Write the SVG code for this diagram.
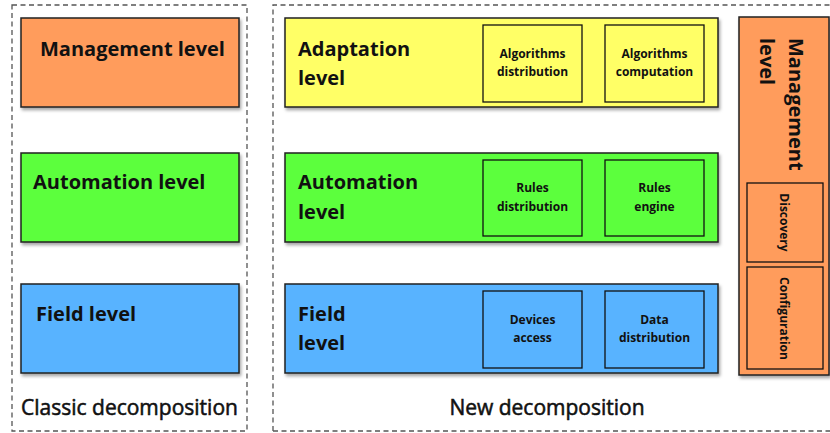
<svg xmlns="http://www.w3.org/2000/svg" width="830" height="433" viewBox="0 0 830 433">
<defs>
<filter id="sh" x="-5%" y="-5%" width="110%" height="115%">
<feDropShadow dx="1.5" dy="2.5" stdDeviation="1.5" flood-color="#000" flood-opacity="0.35"/>
</filter>
</defs>
<style>
.dash{fill:none;stroke:#555;stroke-width:1.3;stroke-dasharray:5 3.5}
.lvl{stroke:#222;stroke-width:1.5;filter:url(#sh)}
.org{fill:#FF9C5B}.grn{fill:#5BFF3E}.yel{fill:#FFFF66}.blu{fill:#58B3FF}
.inner{fill:none;stroke:#111;stroke-width:1.3}
.big{font-family:"Open Sans","Noto Sans",sans-serif;font-weight:bold;font-size:20px;fill:#111}
.cap{font-family:"Open Sans","Noto Sans",sans-serif;font-weight:normal;font-size:21px;fill:#111;stroke:#111;stroke-width:0.55}
.sm{font-family:"Open Sans","Noto Sans",sans-serif;font-weight:bold;font-size:12px;fill:#111;text-anchor:middle}
</style>
<g id="classic">
<rect class="dash" x="12" y="5" width="235" height="426"/>
<text class="cap" x="21" y="415">Classic decomposition</text>
</g>
<g id="new">
<path class="dash" d="M273 431V5H832"/>
<path class="dash" d="M273 431H832"/>
<text class="cap" x="547" y="415" text-anchor="middle">New decomposition</text>
</g>
<g id="mgmt-classic">
<rect class="lvl org" x="21" y="18" width="218" height="89"/>
<text class="big" x="40" y="56">Management level</text>
</g>
<g id="auto-classic">
<rect class="lvl grn" x="21" y="153" width="218" height="89"/>
<text class="big" x="33" y="189">Automation level</text>
</g>
<g id="field-classic">
<rect class="lvl blu" x="21" y="284" width="218" height="89"/>
<text class="big" x="36" y="321">Field level</text>
</g>
<g id="adaptation">
<rect class="lvl yel" x="285" y="18" width="433" height="89"/>
<text class="big" x="298" y="56">Adaptation</text>
<text class="big" x="298" y="85">level</text>
<rect class="inner" x="483" y="25" width="99" height="77"/>
<text class="sm" x="532.5" y="58">Algorithms</text>
<text class="sm" x="532.5" y="76">distribution</text>
<rect class="inner" x="605" y="25" width="99" height="77"/>
<text class="sm" x="654.5" y="58">Algorithms</text>
<text class="sm" x="654.5" y="76">computation</text>
</g>
<g id="automation">
<rect class="lvl grn" x="285" y="153" width="433" height="89"/>
<text class="big" x="298" y="189">Automation</text>
<text class="big" x="298" y="219">level</text>
<rect class="inner" x="483" y="160" width="99" height="76"/>
<text class="sm" x="532.5" y="192">Rules</text>
<text class="sm" x="532.5" y="211">distribution</text>
<rect class="inner" x="605" y="160" width="99" height="76"/>
<text class="sm" x="654.5" y="192">Rules</text>
<text class="sm" x="654.5" y="211">engine</text>
</g>
<g id="field">
<rect class="lvl blu" x="285" y="284" width="433" height="89"/>
<text class="big" x="298" y="321">Field</text>
<text class="big" x="298" y="350">level</text>
<rect class="inner" x="483" y="291" width="99" height="77"/>
<text class="sm" x="532.5" y="324">Devices</text>
<text class="sm" x="532.5" y="342">access</text>
<rect class="inner" x="605" y="291" width="99" height="77"/>
<text class="sm" x="654.5" y="324">Data</text>
<text class="sm" x="654.5" y="342">distribution</text>
</g>
<g id="management">
<rect class="lvl org" x="739" y="17" width="90" height="358"/>
<g transform="translate(789,38) rotate(90)">
<text class="big" x="0" y="0">Management</text>
<text class="big" x="0" y="29">level</text>
</g>
<rect class="inner" x="747" y="183" width="76" height="79"/>
<text class="sm" transform="translate(780,222.5) rotate(90)" x="0" y="0">Discovery</text>
<rect class="inner" x="747" y="267" width="76" height="102"/>
<text class="sm" transform="translate(780,318.5) rotate(90)" x="0" y="0">Configuration</text>
</g>
<g id="connectors"/>
</svg>
